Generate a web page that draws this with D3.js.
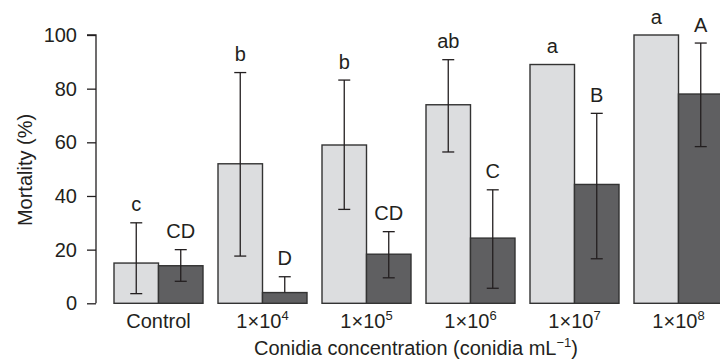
<!DOCTYPE html>
<html>
<head>
<meta charset="utf-8">
<script src="https://cdn.jsdelivr.net/npm/d3@7"></script>
<style>
  body { margin: 0; background: #fff; }
  text { font-family: "Liberation Sans", Arial, sans-serif; fill: #231f20; }
</style>
</head>
<body>
<script>
// data
var categories = ["Control", "1e4", "1e5", "1e6", "1e7", "1e8"];
var tickBase = ["Control", "1×10", "1×10", "1×10", "1×10", "1×10"];
var tickSup = ["", "4", "5", "6", "7", "8"];

var lightValues = [15, 52, 59, 74, 89, 100];
var lightUpper = [30, 86, 83.2, 90.8, null, null];
var lightLower = [3.6, 17.6, 35, 56.4, null, null];
var lightLetters = ["c", "b", "b", "ab", "a", "a"];

var darkValues = [14, 4, 18.3, 24.3, 44.3, 78];
var darkUpper = [20, 9.9, 26.7, 42.3, 70.8, 97];
var darkLower = [8.2, 4, 9.5, 5.6, 16.6, 58.4];
var darkLetters = ["CD", "D", "CD", "C", "B", "A"];

var yTicks = [0, 20, 40, 60, 80, 100];

var W = 720, H = 363;
var svg = d3.select("body").append("svg")
    .attr("width", W)
    .attr("height", H);

var yScale = d3.scaleLinear()
    .domain([0, 100])
    .range([303.3, 35]);

var xScale = d3.scaleBand()
    .domain(categories)
    .range([114, 723])
    .paddingInner(15 / 104)
    .paddingOuter(0);

var subScale = d3.scaleBand()
    .domain(["light", "dark"])
    .range([0, xScale.bandwidth()]);

// y axis
var yAxis = d3.axisLeft(yScale)
    .tickValues(yTicks)
    .tickSize(9)
    .tickPadding(10);

var gy = svg.append("g")
    .attr("transform", "translate(96,0)")
    .call(yAxis);
gy.select(".domain").attr("stroke", "#231f20").attr("stroke-width", 1.3).attr("d", "M0," + yScale(0) + "V" + yScale(100) + "H-9");
gy.selectAll(".tick line").attr("stroke", "#231f20").attr("stroke-width", 1.3);
gy.selectAll(".tick text")
    .style("font-size", "20px")
    .attr("fill", "#231f20");

// bar series
var series = [
    {key: "light", values: lightValues, upper: lightUpper, lower: lightLower, letters: lightLetters, fill: "#dcdddf"},
    {key: "dark", values: darkValues, upper: darkUpper, lower: darkLower, letters: darkLetters, fill: "#5f5f61"}
];

series.forEach(function(s) {
    var g = svg.append("g");
    categories.forEach(function(c, i) {
        var x = xScale(c) + subScale(s.key);
        var bw = subScale.bandwidth();
        var cx = x + bw / 2;

        g.append("rect")
            .attr("x", x)
            .attr("y", yScale(s.values[i]))
            .attr("width", bw)
            .attr("height", yScale(0) - yScale(s.values[i]))
            .attr("fill", s.fill)
            .attr("stroke", "#333")
            .attr("stroke-width", 1.4);

        var top = s.values[i];
        if (s.upper[i] != null) {
            top = Math.max(top, s.upper[i]);
            var eg = g.append("g")
                .attr("stroke", "#231f20")
                .attr("stroke-width", 1.3);
            eg.append("line")
                .attr("x1", cx).attr("x2", cx)
                .attr("y1", yScale(s.lower[i])).attr("y2", yScale(s.upper[i]));
            eg.append("line")
                .attr("x1", cx - 6).attr("x2", cx + 6)
                .attr("y1", yScale(s.upper[i])).attr("y2", yScale(s.upper[i]));
            if (s.lower[i] < s.values[i]) {
                eg.append("line")
                    .attr("x1", cx - 6).attr("x2", cx + 6)
                    .attr("y1", yScale(s.lower[i])).attr("y2", yScale(s.lower[i]));
            }
        }

        g.append("text")
            .attr("x", cx)
            .attr("y", yScale(top) - 11.5)
            .attr("text-anchor", "middle")
            .style("font-size", "20px")
            .text(s.letters[i]);
    });
});

// category labels
var labels = svg.append("g");
categories.forEach(function(c, i) {
    var t = labels.append("text")
        .attr("x", xScale(c) + xScale.bandwidth() / 2)
        .attr("y", 328)
        .attr("text-anchor", "middle")
        .style("font-size", "20px");
    t.append("tspan").text(tickBase[i]);
    if (tickSup[i]) {
        t.append("tspan")
            .attr("dy", -8)
            .style("font-size", "13px")
            .text(tickSup[i]);
    }
});

// axis titles
svg.append("text")
    .attr("transform", "translate(32,170) rotate(-90)")
    .attr("text-anchor", "middle")
    .style("font-size", "20px")
    .text("Mortality (%)");

var xt = svg.append("text")
    .attr("x", 416)
    .attr("y", 355)
    .attr("text-anchor", "middle")
    .style("font-size", "20px");
xt.append("tspan").text("Conidia concentration (conidia mL");
xt.append("tspan").attr("dy", -8).style("font-size", "13px").text("−1");
xt.append("tspan").attr("dy", 8).text(")");
</script>
</body>
</html>
